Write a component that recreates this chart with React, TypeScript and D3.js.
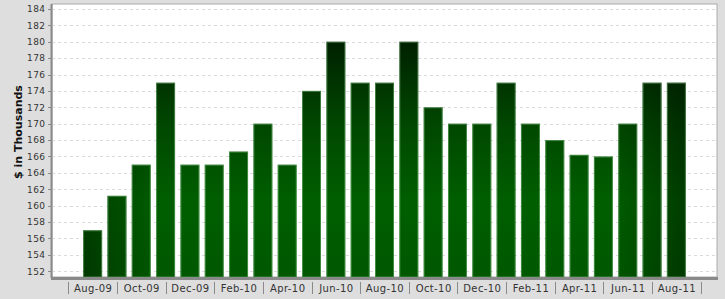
import React from "react";
import * as d3 from "d3";

const months = [
  "Aug-09","Sep-09","Oct-09","Nov-09","Dec-09","Jan-10","Feb-10","Mar-10","Apr-10",
  "May-10","Jun-10","Jul-10","Aug-10","Sep-10","Oct-10","Nov-10","Dec-10",
  "Jan-11","Feb-11","Mar-11","Apr-11","May-11","Jun-11","Jul-11","Aug-11",
];
const values = [
  157, 161.2, 165, 175, 165, 165, 166.6, 170, 165,
  174, 180, 175, 175, 180, 172, 170, 170,
  175, 170, 168, 166.2, 166, 170, 175, 175,
];
const yTicks = [152,154,156,158,160,162,164,166,168,170,172,174,176,178,180,182,184];
const yLabel = "$ in Thousands";

const W = 725, H = 299;
const L = 52, R = 717, T = 4, B = 277;

export default function App() {
  const x = d3.scaleBand<string>().domain(months).range([L, R]).paddingInner(0.22).paddingOuter(1.28);
  const y = d3.scaleLinear().domain([151.3, 184.6]).range([B, T]);
  const step = x.step();
  const bw = x.bandwidth();
  const center = (m: string) => (x(m) as number) + bw / 2;
  const labelMonths = months.filter((_, i) => i % 2 === 0);
  const seps = labelMonths.map((m) => center(m) - step);
  seps.push(center(months[months.length - 1]) + step);
  const tickFont = "'DejaVu Sans', sans-serif";
  return (
    <svg width={W} height={H} style={{ position: "absolute", left: 0, top: 0, background: "#dedede" }}>
      <defs>
        <linearGradient id="vg" gradientUnits="userSpaceOnUse" x1={0} y1={T} x2={0} y2={B}>
          <stop offset="0" stopColor="#001000" />
          <stop offset="0.45" stopColor="#004800" />
          <stop offset="0.72" stopColor="#005e00" />
          <stop offset="1" stopColor="#005800" />
        </linearGradient>
        <linearGradient id="hg" gradientUnits="userSpaceOnUse" x1={L} y1={0} x2={R} y2={0}>
          <stop offset="0.04" stopColor="#000" stopOpacity={0.38} />
          <stop offset="0.16" stopColor="#000" stopOpacity={0} />
          <stop offset="0.84" stopColor="#000" stopOpacity={0} />
          <stop offset="0.96" stopColor="#000" stopOpacity={0.38} />
        </linearGradient>
      </defs>
      <rect x={L} y={T} width={R - L} height={B - T} fill="#fff" stroke="#aaa" strokeWidth={1} />
      {yTicks.map((t) => (
        <line key={"g" + t} x1={L} x2={R} y1={Math.round(y(t)) + 0.5} y2={Math.round(y(t)) + 0.5}
          stroke="#dadada" strokeDasharray="3,3" />
      ))}
      {months.map((m, i) => (
        <g key={m}>
          <rect x={x(m)} y={y(values[i])} width={bw} height={B - y(values[i])} fill="url(#vg)" />
          <rect x={x(m)} y={y(values[i])} width={bw} height={B - y(values[i])} fill="url(#hg)" />
          <rect x={(x(m) as number) + 0.5} y={y(values[i]) + 0.5} width={bw - 1} height={B - y(values[i]) - 0.5}
            fill="none" stroke="#7fbf7f" strokeOpacity={0.5} strokeWidth={1} />
        </g>
      ))}
      <line x1={L - 0.5} x2={L - 0.5} y1={T} y2={B + 1} stroke="#8a8a8a" strokeWidth={2} />
      <line x1={L - 1} x2={R + 1} y1={B + 1.5} y2={B + 1.5} stroke="#8a8a8a" strokeWidth={3} />
      {yTicks.map((t) => (
        <g key={"t" + t}>
          <line x1={L - 4} x2={L - 1} y1={Math.round(y(t)) + 0.5} y2={Math.round(y(t)) + 0.5} stroke="#8a8a8a" />
          <text x={45.5} y={y(t) + 3.3} textAnchor="end" fontFamily={tickFont} fontSize={9} fill="#333"
            letterSpacing={0.4}>{t}</text>
        </g>
      ))}
      {seps.map((s, i) => (
        <line key={"s" + i} x1={Math.round(s) + 0.5} x2={Math.round(s) + 0.5} y1={282} y2={294} stroke="#8a8a8a" />
      ))}
      {labelMonths.map((m) => (
        <text key={"l" + m} x={center(m) + 0.5} y={291.5} textAnchor="middle" fontFamily={tickFont} fontSize={10}
          fill="#333" letterSpacing={0.4}>{m}</text>
      ))}
      <text transform={`translate(22,132) rotate(-90)`} textAnchor="middle" fontFamily="'DejaVu Sans', sans-serif"
        fontWeight="bold" fontSize={11} fill="#111">{yLabel}</text>
    </svg>
  );
}
